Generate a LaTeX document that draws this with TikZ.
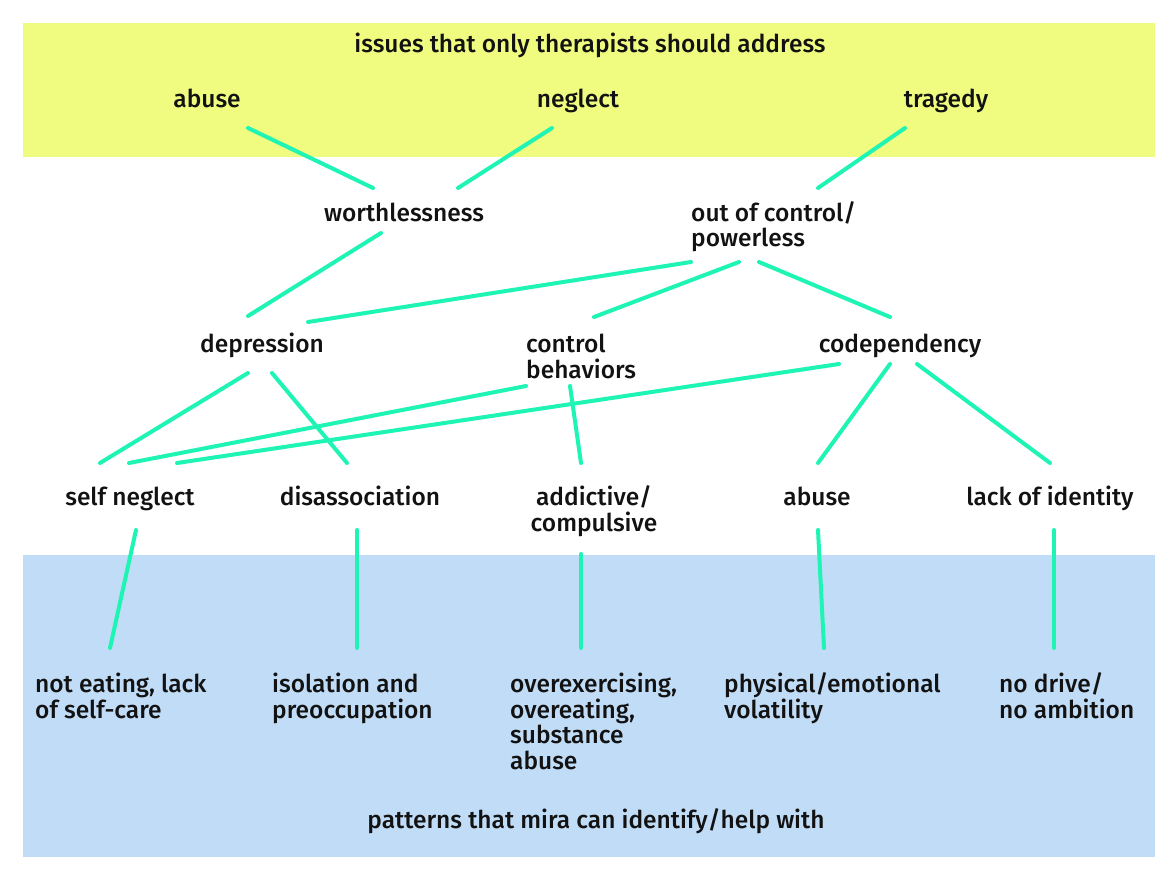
\documentclass[tikz,border=0pt]{standalone}
\usepackage{fontspec}
\setmainfont{Fira Sans}[UprightFont=* Medium]
\usepackage{tikz}
\usetikzlibrary{positioning}
\definecolor{bandyellow}{RGB}{240,252,128}
\definecolor{bandblue}{RGB}{193,220,246}
\definecolor{linkgreen}{RGB}{30,245,180}
\tikzset{
  lbl/.style={inner sep=0pt, anchor=base, text=black!93, font=\fontsize{24.5}{25.5}\selectfont},
  lblc/.style={lbl, align=center},
  lbll/.style={lbl, anchor=base west, align=left},
  link/.style={linkgreen, line width=4pt, line cap=round},
}

\begin{document}
\begin{tikzpicture}[x=1pt, y=-1pt]
    \useasboundingbox (0,0) rectangle (1169,885);
    \fill[bandyellow] (23,23) rectangle (1155,157);
    \fill[bandblue] (23,555) rectangle (1155,857);

    \node[lbl] (therapists) at (590,53) {issues that only therapists should address};
    \node[lbl] (abuse) at (207,108) {abuse};
    \node[lbl] (neglect) at (578,108) {neglect};
    \node[lbl] (tragedy) at (946,108) {tragedy};
    \node[lbl] (worth) at (404,222) {worthlessness};
    \node[lbll] (outctl) at (691,247) {out of control/\\powerless};
    \node[lbl] (depr) at (262,352) {depression};
    \node[lbll] (ctlbeh) at (526,378) {control\\behaviors};
    \node[lbl] (codep) at (900,352) {codependency};
    \node[lbl] (selfneg) at (130,505) {self neglect};
    \node[lbl] (disass) at (360,505) {disassociation};
    \node[lblc] (addict) at (594,531) {addictive/\\compulsive};
    \node[lbl] (abuselow) at (817,505) {abuse};
    \node[lbl] (noident) at (1050,505) {lack of identity};
    \node[lbll] (noeat) at (35,718) {not eating, lack\\of self-care};
    \node[lbll] (isol) at (272,718) {isolation and\\preoccupation};
    \node[lbll] (overex) at (510,769) {overexercising,\\overeating,\\substance\\abuse};
    \node[lbll] (volat) at (724,718) {physical/emotional\\volatility};
    \node[lbll] (nodrive) at (999,718) {no drive/\\no ambition};
    \node[lbl] (mira) at (596,828) {patterns that mira can identify/help with};

    \draw[link] ([shift={(41,20)}]abuse.base) -- ([shift={(-31,-34)}]worth.base);
    \draw[link] ([shift={(-26,20)}]neglect.base) -- ([shift={(54,-34)}]worth.base);
    \draw[link] ([shift={(-41,20)}]tragedy.base) -- ([shift={(127,-59)}]outctl.base west);
    \draw[link] ([shift={(-23,11)}]worth.base) -- ([shift={(-14,-36)}]depr.base);
    \draw[link] ([shift={(0,15)}]outctl.base west) -- ([shift={(46,-30)}]depr.base);
    \draw[link] ([shift={(48,15)}]outctl.base west) -- ([shift={(68,-61)}]ctlbeh.base west);
    \draw[link] ([shift={(68,15)}]outctl.base west) -- ([shift={(-10,-35)}]codep.base);
    \draw[link] ([shift={(-14,21)}]depr.base) -- ([shift={(-30,-42)}]selfneg.base);
    \draw[link] ([shift={(10,21)}]depr.base) -- ([shift={(-13,-42)}]disass.base);
    \draw[link] ([shift={(0,8)}]ctlbeh.base west) -- ([shift={(-1,-42)}]selfneg.base);
    \draw[link] ([shift={(-61,12)}]codep.base) -- ([shift={(47,-42)}]selfneg.base);
    \draw[link] ([shift={(44,8)}]ctlbeh.base west) -- ([shift={(-13,-68)}]addict.base);
    \draw[link] ([shift={(-10,12)}]codep.base) -- ([shift={(1,-42)}]abuselow.base);
    \draw[link] ([shift={(17,12)}]codep.base) -- ([shift={(0,-42)}]noident.base);
    \draw[link] ([shift={(6,25)}]selfneg.base) -- ([shift={(75,-70)}]noeat.base west);
    \draw[link] ([shift={(-3,25)}]disass.base) -- ([shift={(85,-70)}]isol.base west);
    \draw[link] ([shift={(-13,23)}]addict.base) -- ([shift={(71,-121)}]overex.base west);
    \draw[link] ([shift={(1,25)}]abuselow.base) -- ([shift={(100,-70)}]volat.base west);
    \draw[link] ([shift={(4,25)}]noident.base) -- ([shift={(55,-70)}]nodrive.base west);
\end{tikzpicture}
\end{document}
